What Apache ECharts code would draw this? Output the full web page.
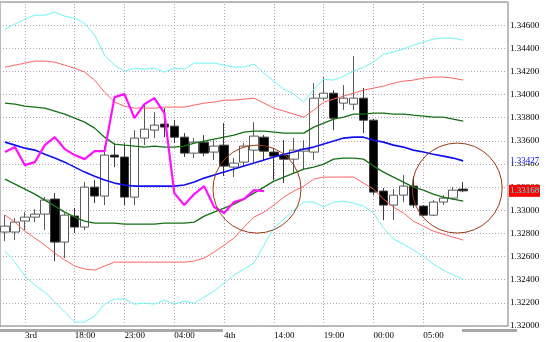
<!DOCTYPE html>
<html><head><meta charset="utf-8">
<script src="https://cdn.jsdelivr.net/npm/echarts@6.0.0/dist/echarts.min.js"></script>
<style>html,body{margin:0;padding:0;background:#fff}#c{width:548px;height:342px}</style>
</head><body><div id="c"></div>
<script>
// ---- data (hourly bars) ----
const slotCount = 51; // 47 bars + empty space on the right
const categories = Array.from({length: slotCount}, (_, i) => 'b' + i);
const tickIndex = [2, 7, 12, 17, 22, 27, 32, 37, 42];
const tickLabels = ['3rd', '18:00', '23:00', '04:00', '4th', '14:00', '19:00', '00:00', '05:00'];

const opens  = [1.32812,1.32812,1.32907,1.32941,1.32967,1.33097,1.32725,1.32950,1.32855,1.33200,1.33123,1.33477,1.33460,1.33114,1.33624,1.33693,1.33745,1.33727,1.33632,1.33494,1.33589,1.33503,1.33563,1.33373,1.33416,1.33520,1.33632,1.33503,1.33477,1.33442,1.33511,1.33503,1.33969,1.34012,1.33926,1.33917,1.33969,1.33779,1.33166,1.33045,1.33131,1.33209,1.33036,1.32958,1.33071,1.33105,1.33183];
const closes = [1.32863,1.32898,1.32941,1.32967,1.33088,1.32725,1.32958,1.32855,1.33200,1.33123,1.33477,1.33460,1.33114,1.33624,1.33701,1.33736,1.33719,1.33632,1.33494,1.33589,1.33494,1.33555,1.33382,1.33408,1.33555,1.33641,1.33511,1.33468,1.33442,1.33520,1.33529,1.33969,1.34012,1.33796,1.33969,1.33969,1.33779,1.33157,1.33045,1.33131,1.33209,1.33045,1.32958,1.33071,1.33105,1.33174,1.33168];
const lows   = [1.32734,1.32742,1.32829,1.32898,1.32829,1.32560,1.32587,1.32803,1.32829,1.33062,1.33045,1.33373,1.33045,1.33045,1.33563,1.33624,1.33632,1.33580,1.33460,1.33451,1.33468,1.33434,1.33295,1.33287,1.33373,1.33416,1.33434,1.33261,1.33235,1.33321,1.33347,1.33434,1.33952,1.33693,1.33866,1.33866,1.33667,1.33131,1.32915,1.32915,1.33071,1.33019,1.32950,1.32950,1.33045,1.33088,1.33157];
const highs  = [1.32958,1.32932,1.32984,1.33010,1.33114,1.33149,1.32976,1.33019,1.33244,1.33261,1.33555,1.33580,1.33580,1.33693,1.33926,1.33848,1.33883,1.33779,1.33667,1.33624,1.33650,1.33606,1.33753,1.33451,1.33580,1.33762,1.33650,1.33537,1.33606,1.33624,1.33606,1.34099,1.34151,1.34038,1.34082,1.34332,1.34056,1.33788,1.33192,1.33183,1.33304,1.33295,1.33045,1.33088,1.33131,1.33200,1.33244];

const bandUpper3 = [1.34565,1.34609,1.34652,1.34686,1.34686,1.34712,1.34678,1.34660,1.34617,1.34514,1.34341,1.34254,1.34203,1.34228,1.34220,1.34228,1.34194,1.34228,1.34220,1.34272,1.34272,1.34272,1.34254,1.34237,1.34237,1.34263,1.34185,1.34116,1.34047,1.34004,1.33935,1.34047,1.34133,1.34125,1.34159,1.34203,1.34237,1.34280,1.34349,1.34367,1.34393,1.34427,1.34453,1.34479,1.34488,1.34488,1.34470];
const bandUpper2 = [1.34237,1.34254,1.34272,1.34289,1.34289,1.34280,1.34254,1.34228,1.34194,1.34125,1.34021,1.33935,1.33900,1.33883,1.33883,1.33883,1.33892,1.33892,1.33892,1.33909,1.33926,1.33935,1.33952,1.33952,1.33961,1.33969,1.33926,1.33883,1.33857,1.33831,1.33805,1.33866,1.33935,1.33961,1.33987,1.34012,1.34038,1.34056,1.34073,1.34099,1.34116,1.34125,1.34142,1.34151,1.34151,1.34142,1.34125];
const bandUpper1 = [1.33926,1.33917,1.33900,1.33892,1.33883,1.33857,1.33831,1.33796,1.33762,1.33710,1.33632,1.33572,1.33563,1.33555,1.33546,1.33555,1.33546,1.33546,1.33555,1.33580,1.33598,1.33615,1.33632,1.33650,1.33676,1.33684,1.33684,1.33676,1.33667,1.33667,1.33667,1.33719,1.33753,1.33788,1.33805,1.33831,1.33831,1.33840,1.33840,1.33831,1.33831,1.33822,1.33814,1.33805,1.33805,1.33788,1.33771];
const bandMiddle = [1.33589,1.33563,1.33537,1.33520,1.33485,1.33451,1.33416,1.33373,1.33330,1.33295,1.33261,1.33235,1.33218,1.33209,1.33209,1.33209,1.33209,1.33209,1.33218,1.33244,1.33278,1.33304,1.33330,1.33356,1.33382,1.33408,1.33434,1.33460,1.33485,1.33503,1.33529,1.33546,1.33572,1.33598,1.33624,1.33632,1.33632,1.33606,1.33589,1.33563,1.33546,1.33520,1.33503,1.33485,1.33468,1.33451,1.33427];
const bandLower1 = [1.33269,1.33226,1.33183,1.33140,1.33088,1.33036,1.32984,1.32941,1.32907,1.32889,1.32889,1.32889,1.32881,1.32881,1.32881,1.32881,1.32889,1.32889,1.32889,1.32898,1.32950,1.32984,1.33019,1.33053,1.33097,1.33148,1.33200,1.33252,1.33287,1.33321,1.33356,1.33373,1.33399,1.33442,1.33451,1.33451,1.33442,1.33382,1.33330,1.33287,1.33244,1.33200,1.33174,1.33140,1.33114,1.33097,1.33079];
const bandLower2 = [1.32958,1.32898,1.32820,1.32760,1.32699,1.32630,1.32570,1.32518,1.32492,1.32483,1.32518,1.32552,1.32552,1.32552,1.32552,1.32552,1.32552,1.32552,1.32552,1.32561,1.32587,1.32639,1.32699,1.32760,1.32855,1.32941,1.32984,1.33045,1.33114,1.33166,1.33209,1.33269,1.33287,1.33287,1.33287,1.33287,1.33235,1.33183,1.33097,1.33028,1.32976,1.32907,1.32863,1.32820,1.32794,1.32768,1.32742];
const bandLower3 = [1.32647,1.32552,1.32431,1.32354,1.32293,1.32207,1.32120,1.32034,1.32034,1.32086,1.32189,1.32233,1.32233,1.32189,1.32198,1.32189,1.32224,1.32189,1.32215,1.32198,1.32250,1.32302,1.32371,1.32440,1.32492,1.32544,1.32699,1.32846,1.32924,1.33002,1.33071,1.33071,1.33028,1.33071,1.33079,1.33062,1.33036,1.32976,1.32846,1.32751,1.32708,1.32656,1.32604,1.32535,1.32483,1.32440,1.32405];
const laggingSpan = [1.33503,1.33546,1.33390,1.33416,1.33563,1.33632,1.33529,1.33477,1.33442,1.33511,1.33511,1.33978,1.34004,1.33796,1.33917,1.33969,1.33840,1.33148,1.33045,1.33140,1.33209,1.33028,1.32976,1.33071,1.33097,1.33174,1.33166];

// annotation circles: [bar index, price]
const circleCenters = [[25.3, 1.33183], [45.4, 1.33192]];

// ---- chart ----
const chart = echarts.init(document.getElementById('c'));
const labelFont = {fontFamily: 'Liberation Serif', fontSize: 9, color: '#000'};
const lbl = {};
tickIndex.forEach((k, j) => lbl[k] = tickLabels[j]);
const candleData = opens.map((o, i) => [o, closes[i], lows[i], highs[i]]);
const gridColor = '#b4a4bc';

function lineSeries(data, color, width) {
  return {type: 'line', data: data, symbol: 'none', silent: true, z: 4,
    lineStyle: {color: color, width: width}};
}

chart.setOption({
  animation: false,
  grid: {left: 0, right: 40, top: 2, bottom: 16, show: true, borderColor: '#7a7a7a', borderWidth: 1, backgroundColor: '#fff'},
  xAxis: {
    type: 'category', data: categories, boundaryGap: true,
    axisLine: {show: false}, axisTick: {show: false}, splitLine: {show: false},
    axisLabel: Object.assign({interval: 0, align: 'left', margin: 5,
      formatter: (v, i) => lbl[i] || ''}, labelFont)
  },
  yAxis: {
    type: 'value', position: 'right', min: 1.32, max: 1.348, interval: 0.002,
    axisLine: {show: false}, axisTick: {show: false},
    splitLine: {show: true, lineStyle: {color: gridColor, type: [1, 2], width: 1}},
    axisLabel: Object.assign({margin: 2, showMaxLabel: false,
      formatter: v => v.toFixed(5)}, labelFont)
  },
  series: [
    {type: 'candlestick', data: candleData, barWidth: 9, z: 2,
      itemStyle: {color: '#ffffff', color0: '#000000', borderColor: '#5a5a5a', borderColor0: '#3a3a3a', borderWidth: 1},
      markLine: {silent: true, symbol: 'none', z: 1, label: {show: false},
        lineStyle: {color: gridColor, type: [1, 2], width: 1},
        data: tickIndex.map(k => ({xAxis: categories[k]}))}
    },
    lineSeries(bandUpper3, '#70f4f4', 1),
    lineSeries(bandLower3, '#70f4f4', 1),
    lineSeries(bandUpper2, '#ff6464', 1),
    lineSeries(bandLower2, '#ff6464', 1),
    lineSeries(bandUpper1, '#157015', 1.3),
    lineSeries(bandLower1, '#157015', 1.3),
    lineSeries(bandMiddle, '#1010ee', 1.6),
    lineSeries(laggingSpan, '#ff10ff', 2.2)
  ]
});

function pix(idx, v) {
  const i0 = Math.floor(idx), f = idx - i0;
  const a = chart.convertToPixel({gridIndex: 0}, [categories[i0], v]);
  const b = chart.convertToPixel({gridIndex: 0}, [categories[i0 + 1], v]);
  return [a[0] + f * (b[0] - a[0]), a[1]];
}
const W = chart.getWidth(), H = chart.getHeight();
const axisX = W - 40;
const graphics = [];
circleCenters.forEach((c, j) => {
  const p = pix(c[0], c[1]);
  graphics.push({type: 'circle', silent: true, z: 50,
    shape: {cx: p[0], cy: p[1], r: j === 0 ? 44 : 45},
    style: {fill: 'none', stroke: '#983c14', lineWidth: 1}});
});
const lastClose = closes[closes.length - 1];
const lastMid = bandMiddle[bandMiddle.length - 1];
const yc = chart.convertToPixel({yAxisIndex: 0}, lastClose);
const ym = chart.convertToPixel({yAxisIndex: 0}, lastMid);
// clip bottom axis label and scrollbar chrome
graphics.push({type: 'rect', silent: true, z: 60, shape: {x: axisX + 1, y: H - 14, width: 40, height: 14}, style: {fill: '#fff'}});
graphics.push({type: 'rect', silent: true, z: 61, shape: {x: 0, y: H - 13, width: 223, height: 3}, style: {fill: '#a8a8a8'}});
graphics.push({type: 'rect', silent: true, z: 61, shape: {x: 462, y: H - 13, width: 55, height: 3}, style: {fill: '#a8a8a8'}});
// last-value tags
graphics.push({type: 'rect', silent: true, z: 70, shape: {x: axisX + 1, y: yc - 6, width: 31, height: 12}, style: {fill: '#ff0000'}});
graphics.push({type: 'text', silent: true, z: 71, x: axisX + 2, y: yc,
  style: {text: lastClose.toFixed(5), fill: '#40f0f0', font: '9px "Liberation Serif"', verticalAlign: 'middle', align: 'left'}});
graphics.push({type: 'rect', silent: true, z: 70, shape: {x: axisX + 1, y: ym - 5, width: 31, height: 7}, style: {fill: '#ffffff'}});
graphics.push({type: 'text', silent: true, z: 71, x: axisX + 2, y: ym,
  style: {text: lastMid.toFixed(5), fill: '#0000ff', font: '9px "Liberation Serif"', verticalAlign: 'middle', align: 'left'}});
chart.setOption({graphic: graphics});
</script>
</body></html>
